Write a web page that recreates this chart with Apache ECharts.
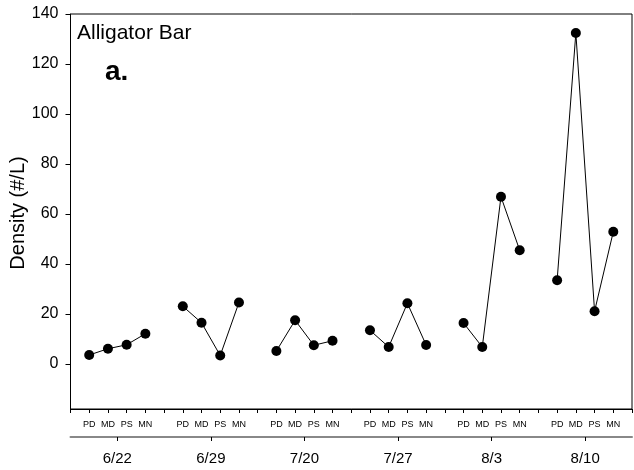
<!DOCTYPE html>
<html>
<head>
<meta charset="utf-8">
<script src="https://cdn.jsdelivr.net/npm/echarts@6/dist/echarts.min.js"></script>
<style>html,body{margin:0;padding:0;background:#fff}#c{width:634px;height:470px}</style>
</head>
<body>
<div id="c"></div>
<script>
const categories = ['PD', 'MD', 'PS', 'MN'];
const dates = ['6/22', '6/29', '7/20', '7/27', '8/3', '8/10'];
const v0622 = [3.6, 6.1, 7.7, 12.1];
const v0629 = [23.1, 16.5, 3.4, 24.6];
const v0720 = [5.2, 17.5, 7.5, 9.3];
const v0727 = [13.5, 6.8, 24.3, 7.6];
const v0803 = [16.4, 6.8, 66.9, 45.5];
const v0810 = [33.5, 132.4, 21.1, 52.9];
const yTicks = [0, 20, 40, 60, 80, 100, 120, 140];

const groups = [v0622, v0629, v0720, v0727, v0803, v0810];
const slot = (g, i) => g * 5 + i + 1;
const catPos = [], catName = {};
groups.forEach((vals, g) => categories.forEach((c, i) => { catPos.push(slot(g, i)); catName[slot(g, i)] = c; }));
const datePos = dates.map((d, g) => g * 5 + 2.5);
const dateName = {}; dates.forEach((d, g) => dateName[g * 5 + 2.5] = d);

const FONT = 'Liberation Sans, Arial, sans-serif';
const chart = echarts.init(document.getElementById('c'), null, {renderer: 'canvas'});
chart.setOption({
  animation: false,
  backgroundColor: '#fff',
  grid: {left: 70.5, right: 2, top: 14, bottom: 61, containLabel: false, outerBoundsMode: 'none',
         show: true, borderColor: '#000', borderWidth: 1, backgroundColor: 'transparent'},
  xAxis: [{
    type: 'value', min: 0, max: 30, interval: 1, position: 'bottom',
    axisLine: {show: true, onZero: false, lineStyle: {color: '#000', width: 1}},
    axisTick: {show: true, length: 4, lineStyle: {color: '#000'}},
    axisLabel: {customValues: catPos, formatter: v => catName[v] || '', color: '#000', fontSize: 9, fontFamily: FONT, margin: 11},
    splitLine: {show: false}
  }, {
    type: 'value', min: 0, max: 30, position: 'bottom', offset: 28,
    axisLine: {show: true, onZero: false, lineStyle: {color: '#888', width: 2}},
    axisTick: {show: true, customValues: datePos, length: 4, lineStyle: {color: '#000'}},
    axisLabel: {customValues: datePos, formatter: v => dateName[v] || '', color: '#000', fontSize: 15, fontFamily: FONT, margin: 14},
    splitLine: {show: false}
  }],
  yAxis: {
    type: 'value', min: -18, max: 140,
    axisLine: {show: true, onZero: false, lineStyle: {color: '#000', width: 1}},
    axisTick: {show: true, customValues: yTicks, length: 5, lineStyle: {color: '#000'}},
    axisLabel: {customValues: yTicks, color: '#000', fontSize: 16, fontFamily: FONT, margin: 12},
    splitLine: {show: false}
  },
  graphic: [
    {type: 'text', x: 18, y: 213, rotation: Math.PI / 2,
     style: {text: 'Density (#/L)', fill: '#000', font: '20px ' + FONT, align: 'center', verticalAlign: 'middle'}},
    {type: 'text', left: 77, top: 23, style: {text: 'Alligator Bar', fill: '#000', font: '21px ' + FONT}},
    {type: 'text', left: 105, top: 58, style: {text: 'a.', fill: '#000', font: 'bold 28px ' + FONT}}
  ],
  series: groups.map((vals, g) => ({
    type: 'line', name: dates[g],
    data: vals.map((v, i) => [slot(g, i), v]),
    symbol: 'circle', symbolSize: 10,
    itemStyle: {color: '#000'},
    lineStyle: {color: '#000', width: 1},
    z: 3
  }))
});
</script>
</body>
</html>
